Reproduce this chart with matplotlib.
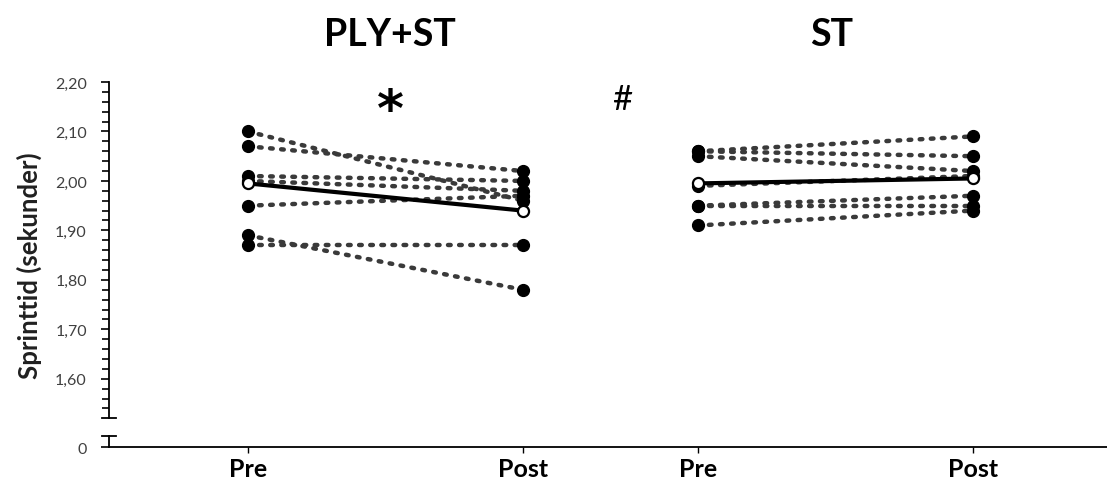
import numpy as np
import matplotlib.pyplot as plt
from matplotlib.ticker import FixedLocator

# individual values (seconds)
ply_pre = [2.10, 2.07, 2.01, 2.00, 1.95, 1.89, 1.87]
ply_post = [1.96, 2.02, 2.00, 1.98, 1.97, 1.78, 1.87]
st_pre = [2.06, 2.06, 2.05, 1.99, 1.95, 1.95, 1.91]
st_post = [2.09, 2.05, 2.02, 2.01, 1.97, 1.95, 1.94]

# group means (open circles)
ply_mean = [1.995, 1.94]
st_mean = [1.995, 2.005]

x_labels = ['Pre', 'Post', 'Pre', 'Post']
x_pos = [0, 1, 1.636, 2.636]
y_ticks = [1.60, 1.70, 1.80, 1.90, 2.00, 2.10, 2.20]
y_zero = 1.462   # where the "0" of the broken axis sits
y_break = 1.521

plt.rcParams['font.family'] = ['Lato', 'DejaVu Sans']

fig = plt.figure(figsize=(11.07, 4.81), dpi=100)
ax = fig.add_axes([0.0985, 0.0686, 0.9015, 0.7588])

dot_style = dict(color='#3a3a3a', linestyle=(0, (0.6, 1.9)), linewidth=3.2,
                 dash_capstyle='round', zorder=2)

for pre, post in zip(ply_pre, ply_post):
    ax.plot(x_pos[0:2], [pre, post], **dot_style)
for pre, post in zip(st_pre, st_post):
    ax.plot(x_pos[2:4], [pre, post], **dot_style)

ax.plot([x_pos[0]] * len(ply_pre), ply_pre, 'o', color='black', ms=8.5, zorder=3)
ax.plot([x_pos[1]] * len(ply_post), ply_post, 'o', color='black', ms=8.5, zorder=3)
ax.plot([x_pos[2]] * len(st_pre), st_pre, 'o', color='black', ms=8.5, zorder=3)
ax.plot([x_pos[3]] * len(st_post), st_post, 'o', color='black', ms=8.5, zorder=3)

ax.plot(x_pos[0:2], ply_mean, '-o', color='black', lw=3, ms=8,
        mfc='white', mec='black', mew=1.6, zorder=4)
ax.plot(x_pos[2:4], st_mean, '-o', color='black', lw=3, ms=8,
        mfc='white', mec='black', mew=1.6, zorder=4)

ax.set_xlim(-0.505, 3.124)
ax.set_ylim(y_zero, 2.20)

for s in ['top', 'right']:
    ax.spines[s].set_visible(False)
ax.spines['left'].set_bounds(y_break, 2.20)
ax.spines['left'].set_linewidth(1.3)
ax.spines['bottom'].set_linewidth(1.3)

# axis break: caps and short lower piece
tr = ax.get_yaxis_transform()
cap = 0.007
ax.plot([-cap, cap], [y_break, y_break], color='black', lw=1.3, transform=tr, clip_on=False)
ax.plot([-cap, cap], [1.484, 1.484], color='black', lw=1.3, transform=tr, clip_on=False)
ax.plot([0, 0], [y_zero, 1.484], color='black', lw=1.3, transform=tr, clip_on=False)

ax.yaxis.set_major_locator(FixedLocator([y_zero] + y_ticks))
ax.set_yticklabels(['0'] + [('%.2f' % v).replace('.', ',') for v in y_ticks])
ax.yaxis.set_minor_locator(FixedLocator(np.arange(1.54, 2.19, 0.02)))
ax.tick_params(axis='y', which='major', length=6, width=1.2, labelsize=11.5,
               labelcolor='#404040', pad=10)
ax.tick_params(axis='y', which='minor', length=5, width=1.2)

ax.set_xticks(x_pos)
ax.set_xticklabels(x_labels, fontsize=18, fontweight='bold')
ax.tick_params(axis='x', length=4, width=1, pad=3)

ax.set_ylabel('Sprinttid (sekunder)', fontsize=18.5, fontweight='bold',
              color='#202020', labelpad=9)

fig.text(390 / 1107, 1 - 35 / 481, 'PLY+ST', ha='center', va='center',
         fontsize=27, fontweight='bold')
fig.text(832 / 1107, 1 - 35 / 481, 'ST', ha='center', va='center',
         fontsize=27, fontweight='bold')
fig.text(390 / 1107, 1 - 107 / 481, '*', ha='center', va='center_baseline',
         fontsize=37, fontweight='bold', family='DejaVu Sans')
fig.text(622 / 1107, 1 - 100 / 481, '#', ha='center', va='center',
         fontsize=25)

fig.savefig('out.png', dpi=100)
